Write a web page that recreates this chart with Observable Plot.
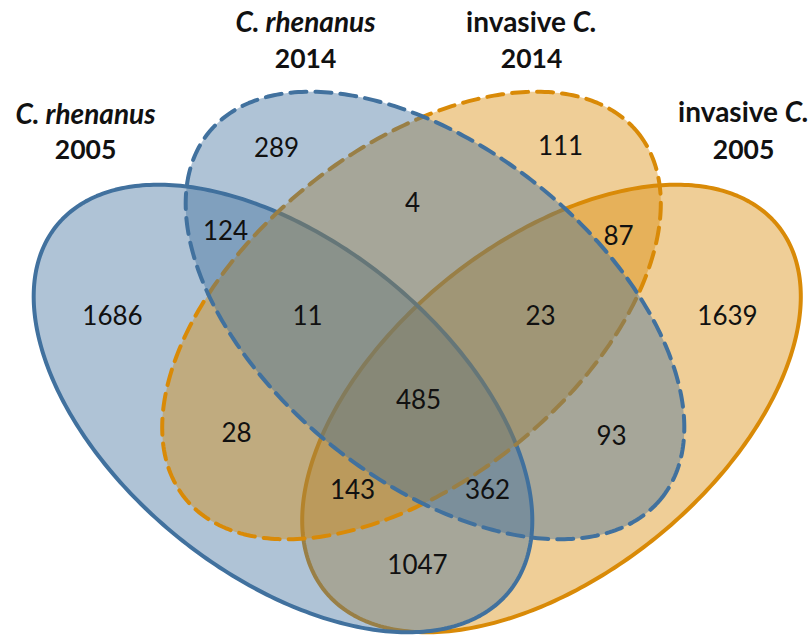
<!DOCTYPE html>
<html><head><meta charset="utf-8">
<script src="https://cdn.jsdelivr.net/npm/d3@7"></script>
<script src="https://cdn.jsdelivr.net/npm/@observablehq/plot@0.6"></script>
<style>html,body{margin:0;padding:0;background:#fff}svg{display:block}</style>
</head><body><div id="chart"></div>
<script>
// ---- data ----
const setKeys = ["A", "B", "C", "D"];
const setTitle = ["C. rhenanus", "C. rhenanus", "invasive C.", "invasive C."];
const setYear = ["2005", "2014", "2014", "2005"];
const regionSets = ["A", "B", "C", "D", "AB", "BC", "CD", "ABC", "BCD", "ABCD", "AC", "BD", "ACD", "ABD", "AD"];
const regionCounts = [1686, 289, 111, 1639, 124, 4, 87, 11, 23, 485, 28, 93, 143, 362, 1047];

// ---- layout (diagram geometry, pixels) ----
const W = 812, H = 636;
const shapeLayout = {
  A: {cx: 282.5, cy: 408, rx: 291, ry: 166, angle: 38.9, dash: null, hue: "blue"},
  B: {cx: 434.5, cy: 315, rx: 291, ry: 166, angle: 38.9, dash: "16,9", hue: "blue"},
  C: {cx: 411, cy: 315, rx: 291, ry: 166, angle: -38.9, dash: "16,9", hue: "orange"},
  D: {cx: 551, cy: 408, rx: 291, ry: 166, angle: -38.9, dash: null, hue: "orange"}
};
const drawOrder = ["D", "A", "C", "B"];
const hues = {blue: "#41719E", orange: "#D98A07"};
const titleLayout = {A: [85, 115, 150], B: [305, 23, 59], C: [531, 23, 59], D: [743, 113, 150]};
const regionLayout = {
  A: [112, 316], B: [276, 148], C: [560, 146], D: [727, 316],
  AB: [225, 231], BC: [412, 203], CD: [618, 236], ABC: [307, 316], BCD: [540, 316],
  ABCD: [418, 400], AC: [236, 433], BD: [611, 436], ACD: [352, 490], ABD: [487, 490], AD: [417, 565]
};

function ellipsePoints(key) {
  const s = shapeLayout[key];
  const th = s.angle * Math.PI / 180;
  return d3.range(0, 360, 1).map(deg => {
    const t = deg * Math.PI / 180;
    const ex = s.rx * Math.cos(t), ey = s.ry * Math.sin(t);
    return {set: key, x: s.cx + ex * Math.cos(th) - ey * Math.sin(th), y: s.cy + ex * Math.sin(th) + ey * Math.cos(th)};
  });
}

const regions = regionSets.map((r, i) => ({region: r, count: regionCounts[i], x: regionLayout[r][0], y: regionLayout[r][1]}));
const titles = setKeys.flatMap((k, i) => [
  {text: setTitle[i], x: titleLayout[k][0], y: titleLayout[k][1], italic: setTitle[i].startsWith("C."), size: 28},
  {text: setYear[i], x: titleLayout[k][0], y: titleLayout[k][2], italic: false, size: 26.5}
]);

const marks = drawOrder.map(k => {
  const s = shapeLayout[k];
  return Plot.line(ellipsePoints(k), {
    x: "x", y: "y", curve: "linear-closed",
    fill: hues[s.hue], fillOpacity: 0.42,
    stroke: hues[s.hue], strokeWidth: 4,
    strokeDasharray: s.dash ?? undefined
  });
});
marks.push(Plot.text(regions, {x: "x", y: "y", text: d => String(d.count), fontSize: 26, fill: "#111"}));
marks.push(Plot.text(titles.filter(d => d.italic), {x: "x", y: "y", text: "text", fontSize: 28, fontWeight: "bold", fontStyle: "italic", fill: "#111"}));
marks.push(Plot.text(titles.filter(d => !d.italic && d.size === 28), {x: "x", y: "y", text: "text", fontSize: 28, fontWeight: "bold", fill: "#111"}));
marks.push(Plot.text(titles.filter(d => d.size !== 28), {x: "x", y: "y", text: "text", fontSize: 26.5, fontWeight: "bold", fill: "#111"}));

const chart = Plot.plot({
  width: W, height: H,
  margin: 0,
  style: {fontFamily: "Lato, 'Open Sans', sans-serif", background: "#fff", overflow: "visible"},
  x: {domain: [0, W], range: [0, W], axis: null},
  y: {domain: [0, H], range: [0, H], axis: null},
  marks
});

// italicise the genus abbreviation inside "invasive C."
chart.querySelectorAll("text").forEach(t => {
  if (t.textContent === "invasive C.") {
    t.textContent = "";
    const a = document.createElementNS("http://www.w3.org/2000/svg", "tspan");
    a.textContent = "invasive ";
    const b = document.createElementNS("http://www.w3.org/2000/svg", "tspan");
    b.textContent = "C.";
    b.setAttribute("font-style", "italic");
    t.append(a, b);
  }
});
document.getElementById("chart").append(chart);
</script>
</body></html>
